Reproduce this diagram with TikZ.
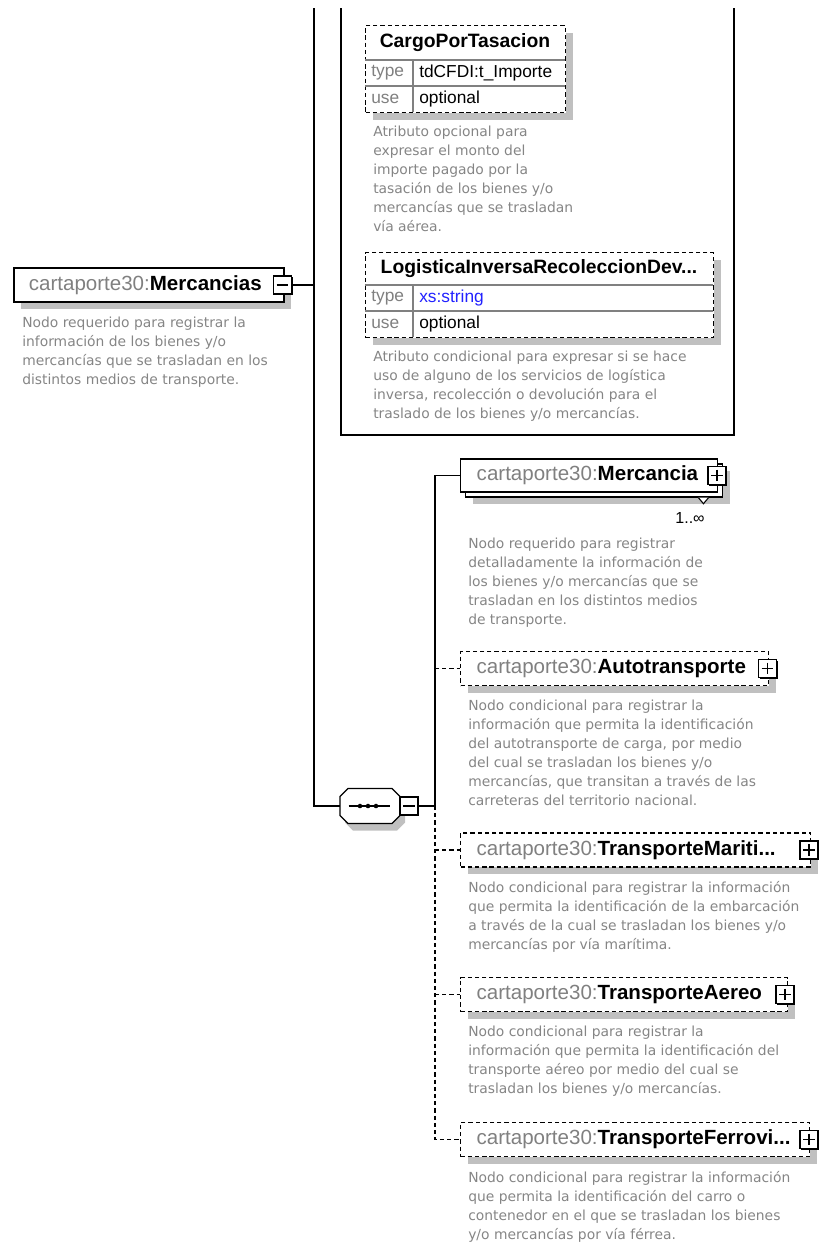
\documentclass[tikz,border=0pt]{standalone}
\usepackage{fontspec}
\setmainfont{Liberation Sans}
\newfontfamily\descfont{DejaVu Sans}
\usetikzlibrary{positioning,shadows}
\definecolor{nsgray}{HTML}{808080}
\definecolor{descgray}{HTML}{858585}
\definecolor{shadowgray}{HTML}{C0C0C0}
\definecolor{cellgray}{HTML}{808080}
\definecolor{typeblue}{HTML}{2222FF}
\newcommand{\xsdname}[1]{\textcolor{nsgray}{cartaporte30:}\textbf{#1}}

\begin{document}
\begin{tikzpicture}[x=0.75pt,y=-0.75pt,
    boxshadow/.style={drop shadow={shadow xshift=5.25pt,shadow yshift=-5.25pt,fill=shadowgray,opacity=1}},
    elem/.style={draw,fill=white,line width=1.1pt,anchor=west,minimum height=25.5pt,inner xsep=12pt,align=left,font=\fontsize{15.4pt}{18pt}\selectfont},
    optelem/.style={elem,line width=1pt,dash pattern=on 3.2pt off 2.2pt},
    pmbox/.style={draw,fill=white,line width=0.8pt,minimum size=13.5pt,inner sep=0pt,drop shadow={shadow xshift=1.1pt,shadow yshift=-1.1pt,fill=black,opacity=1}},
    plusbox/.style={pmbox,path picture={\draw[black,line width=0.9pt] ([xshift=2.3pt]path picture bounding box.west) -- ([xshift=-2.3pt]path picture bounding box.east) ([yshift=-2.3pt]path picture bounding box.north) -- ([yshift=2.3pt]path picture bounding box.south);}},
    minusbox/.style={pmbox,path picture={\draw[black,line width=0.9pt] ([xshift=2.3pt]path picture bounding box.west) -- ([xshift=-2.3pt]path picture bounding box.east);}},
    seqbox/.style={minimum width=45pt,minimum height=26.25pt,inner sep=0pt},
    seqline/.style={draw,fill=white,line width=1pt},
    attrbox/.style={draw,fill=white,line width=1pt,dash pattern=on 3.2pt off 2.2pt,anchor=north west,inner sep=0pt,boxshadow},
    attrname/.style={font=\bfseries\fontsize{14.5pt}{17pt}\selectfont},
    attrkey/.style={anchor=west,inner sep=0pt,text=nsgray,font=\fontsize{13pt}{15pt}\selectfont},
    attrval/.style={attrkey,text=black},
    cell/.style={cellgray,line width=0.8pt},
    desc/.style={anchor=north west,inner sep=0pt,align=left,text=descgray,font=\descfont\fontsize{10.4pt}{14.25pt}\selectfont},
    card/.style={font=\fontsize{12pt}{14pt}\selectfont,inner sep=0pt},
    link/.style={line width=1pt},
    optlink/.style={line width=0.9pt,dash pattern=on 3.2pt off 2.2pt},
  ]
  \useasboundingbox (0,0) rectangle (819,1243);

  % attribute group of Mercancias
  \coordinate (frameTL) at (341,8);
  \coordinate (frameBR) at (734,435);
  \draw[link] (frameTL) -- (frameTL |- frameBR) -- (frameBR) -- (frameBR |- frameTL);

  \node[attrbox,minimum width=150pt,minimum height=65.25pt] (cargo) at (365,25) {};
  \draw[cell] (365,60) -- (565,60) (365,86) -- (565,86) (413,60) -- (413,112);
  \node[attrname] (cargoName) at (465,42.5) {CargoPorTasacion};
  \node[attrkey] (cargoTypeKey) at (371,73) {type};
  \node[attrval] (cargoType) at (419,73) {tdCFDI:t\_Importe};
  \node[attrkey] (cargoUseKey) at (371,99) {use};
  \node[attrval] (cargoUse) at (419,99) {optional};
  \node[desc] (cargoDesc) at (373,126) {Atributo opcional para\\expresar el monto del\\importe pagado por la\\tasación de los bienes y/o\\mercancías que se trasladan\\vía aérea.};

  \node[attrbox,minimum width=261pt,minimum height=63.75pt] (logi) at (365,252) {};
  \draw[cell] (365,285) -- (713,285) (365,311) -- (713,311) (413,285) -- (413,337);
  \node[attrname] (logiName) at (539,268.5) {LogisticaInversaRecoleccionDev...};
  \node[attrkey] (logiTypeKey) at (371,298) {type};
  \node[attrval,text=typeblue] (logiType) at (419,298) {xs:string};
  \node[attrkey] (logiUseKey) at (371,324) {use};
  \node[attrval] (logiUse) at (419,324) {optional};
  \node[desc] (logiDesc) at (373,351) {Atributo condicional para expresar si se hace\\uso de alguno de los servicios de logística\\inversa, recolección o devolución para el\\traslado de los bienes y/o mercancías.};

  % Mercancias
  \node[elem,boxshadow,line width=1.3pt,minimum width=202.5pt,text width=180pt,inner xsep=11.25pt] (mercs) at (13,285) {\xsdname{Mercancias}};
  \node[minusbox] (mercsMinus) at (282.5,285) {};
  \node[desc] (mercsDesc) at (22,317) {Nodo requerido para registrar la\\información de los bienes y/o\\mercancías que se trasladan en los\\distintos medios de transporte.};

  % sequence
  \node[seqbox] (seq) at (370,806) {};
  \fill[shadowgray] ([shift={(5,7)}]seq.center) ++(-22,-17.5) -- ++(44,0) -- ++(8,8) -- ++(0,19) -- ++(-8,8) -- ++(-44,0) -- ++(-8,-8) -- ++(0,-19) -- cycle;
  \path[seqline] (seq.center) ++(-22,-17.5) -- ++(44,0) -- ++(8,8) -- ++(0,19) -- ++(-8,8) -- ++(-44,0) -- ++(-8,-8) -- ++(0,-19) -- cycle;
  \draw[line width=0.9pt] ([xshift=-16pt]seq.center) -- ([xshift=15pt]seq.center);
  \foreach \dx in {-10,-2,6} \fill ([shift={(\dx,0)}]seq.center) circle[radius=1.7pt];
  \node[minusbox] (seqMinus) at (409,806) {};
  \coordinate (trunkTop) at (314,8);
  \coordinate (bus) at (435,806);

  % Mercancia
  \node[elem,boxshadow,minimum width=192.75pt,minimum height=24.75pt] (mercBack) at (465,480.5) {};
  \node[elem,minimum width=192.75pt,minimum height=24.75pt,text width=168.75pt] (merc) at (460,475.5) {\xsdname{Mercancia}};
  \node[plusbox] (mercPlus) at (717,475.5) {};
  \draw[line width=0.8pt,fill=white] ([xshift=-18.75pt]mercBack.south east) -- ++(5,6) -- ++(5,-6);
  \node[card] (mercCard) at (690,518) {1..∞};
  \node[desc] (mercDesc) at (468,538) {Nodo requerido para registrar\\detalladamente la información de\\los bienes y/o mercancías que se\\trasladan en los distintos medios\\de transporte.};

  \node[optelem,boxshadow,minimum width=231pt,text width=207pt] (auto) at (460,668.5) {\xsdname{Autotransporte}};
  \node[plusbox] (autoPlus) at (767.5,668.5) {};
  \node[desc] (autoDesc) at (468,700) {Nodo condicional para registrar la\\información que permita la identificación\\del autotransporte de carga, por medio\\del cual se trasladan los bienes y/o\\mercancías, que transitan a través de las\\carreteras del territorio nacional.};

  \node[optelem,boxshadow,minimum width=262.5pt,text width=238.5pt] (mari) at (460,850) {\xsdname{TransporteMariti...}};
  \node[plusbox] (mariPlus) at (809,850) {};
  \node[desc] (mariDesc) at (468,881) {Nodo condicional para registrar la información\\que permita la identificación de la embarcación\\a través de la cual se trasladan los bienes y/o\\mercancías por vía marítima.};

  \node[optelem,boxshadow,minimum width=245.25pt,text width=221.25pt] (aereo) at (460,994.5) {\xsdname{TransporteAereo}};
  \node[plusbox] (aereoPlus) at (785,994.5) {};
  \node[desc] (aereoDesc) at (468,1026) {Nodo condicional para registrar la\\información que permita la identificación del\\transporte aéreo por medio del cual se\\trasladan los bienes y/o mercancías.};

  \node[optelem,boxshadow,minimum width=261.75pt,text width=237.75pt] (ferro) at (460,1139.5) {\xsdname{TransporteFerrovi...}};
  \node[plusbox] (ferroPlus) at (809,1139.5) {};
  \node[desc] (ferroDesc) at (468,1171) {Nodo condicional para registrar la información\\que permita la identificación del carro o\\contenedor en el que se trasladan los bienes\\y/o mercancías por vía férrea.};

  % connectors
  \draw[link] (mercsMinus.east) -- (mercsMinus.east -| trunkTop);
  \draw[link] (trunkTop) |- (seq.west);
  \draw[link] (seqMinus.east) -- (bus);
  \draw[link] (bus) |- (merc.west);
  \draw[optlink] (bus |- auto.west) -- (auto.west);
  \draw[optlink] (bus |- mari.west) -- (mari.west);
  \draw[optlink] (bus |- aereo.west) -- (aereo.west);
  \draw[optlink] (bus) |- (ferro.west);
\end{tikzpicture}
\end{document}
